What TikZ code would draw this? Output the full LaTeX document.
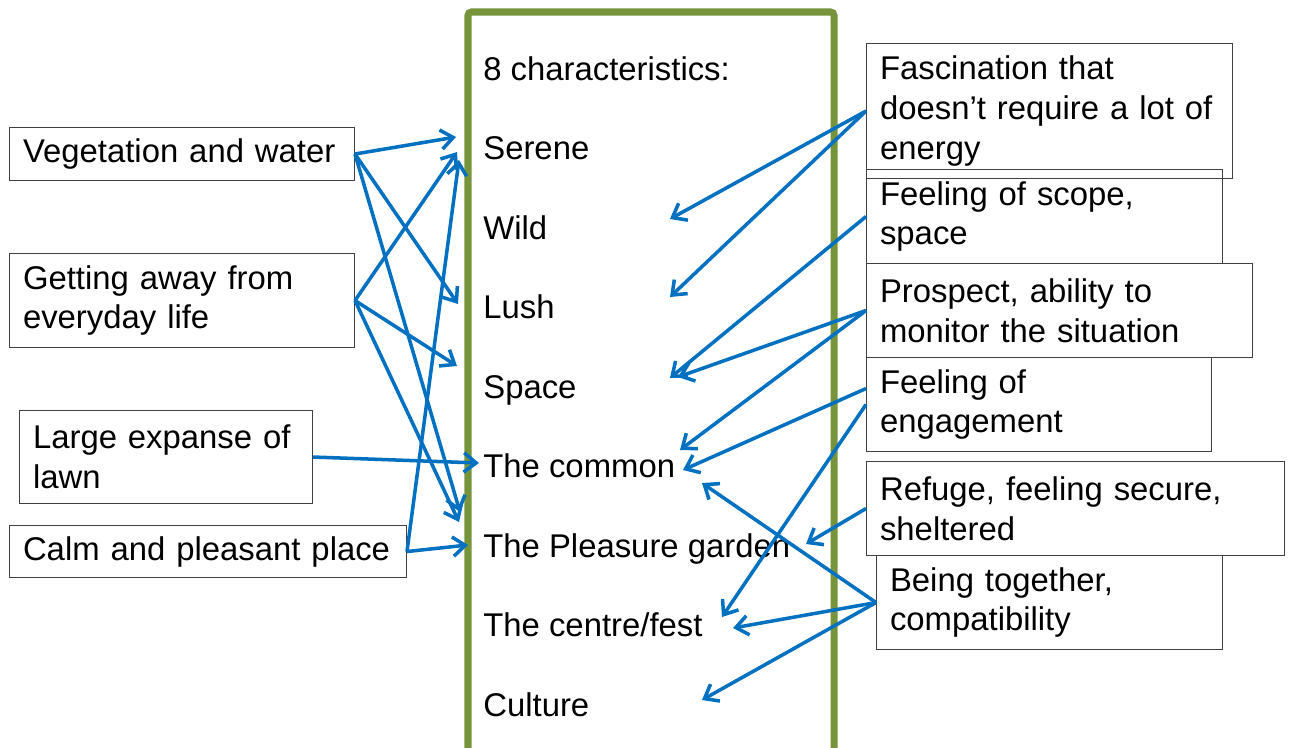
\documentclass[tikz,border=0pt]{standalone}
\usepackage{fontspec}
\setmainfont{Liberation Sans}
\usetikzlibrary{arrows.meta}
\definecolor{arrblue}{RGB}{0,112,192}
\definecolor{framegreen}{RGB}{119,147,60}
\definecolor{boxgray}{RGB}{64,64,64}

\begin{document}
\begin{tikzpicture}[x=0.02cm,y=-0.02cm,
  every node/.style={font=\fontsize{18.7}{22.7}\selectfont},
  box/.style={draw=boxgray,line width=0.6pt,anchor=north west,align=left,inner xsep=0.27cm,inner ysep=0pt},
  charac/.style={anchor=base west,inner sep=0pt},
  arr/.style={draw=arrblue,line width=2pt,-{Straight Barb[length=7pt,width=11pt]}}]
\useasboundingbox (0,0) rectangle (1290,747);
\clip (0,0) rectangle (1290,747);
\draw[framegreen,line width=4pt,rounded corners=2pt] (468,12) rectangle (834,780);
\foreach \t [count=\i from 0] in {8 characteristics:,Serene,Wild,Lush,Space,The common,The Pleasure garden,The centre/fest,Culture}
\node[charac] (c\i) at (483,{80+79.5*\i}) {\t};
% left boxes
\node[box,text width=6.36cm,minimum height=1.06cm] (veg) at (9,127) {Vegetation and water};
\node[box,text width=6.36cm,minimum height=1.88cm] (away) at (9,253) {Getting away from\\everyday life};
\node[box,text width=5.32cm,minimum height=1.86cm] (lawn) at (19,410) {Large expanse of\\lawn};
\node[box,text width=7.40cm,minimum height=1.04cm] (calm) at (9,525) {Calm and pleasant place};
% right boxes
\node[box,text width=6.78cm,minimum height=2.7cm] (fasc) at (866,43) {Fascination that\\doesn’t require a lot of\\energy};
\node[box,text width=6.58cm,minimum height=1.88cm] (scope) at (866,169) {Feeling of scope,\\space};
\node[box,text width=7.18cm,minimum height=1.88cm] (prosp) at (866,263) {Prospect, ability to\\monitor the situation};
\node[box,text width=6.36cm,minimum height=1.88cm] (engage) at (866,357) {Feeling of\\engagement};
\node[box,text width=7.82cm,minimum height=1.88cm] (refuge) at (866,461) {Refuge, feeling secure,\\sheltered};
\node[box,text width=6.38cm,minimum height=1.88cm] (togeth) at (876,555) {Being together,\\compatibility};
% arrow ends
\coordinate (vegser) at (456,137);
\coordinate (veglush) at (458,304);
\coordinate (vegpl) at (460,512);
\coordinate (awayser) at (457,152);
\coordinate (awaysp) at (457,366);
\coordinate (awaypl) at (459,522);
\coordinate (lawncom) at (479,463);
\coordinate (calmpl) at (468,545);
\coordinate (calmser) at (459,160);
\coordinate (fascwild) at (670,219);
\coordinate (fasclush) at (670,297);
\coordinate (scopesp) at (670,378);
\coordinate (prospsp) at (678,377);
\coordinate (prospcom) at (680,450);
\coordinate (engcom) at (683,470);
\coordinate (engcen) at (722,617);
\coordinate (refpl) at (806,544);
\coordinate (togcom) at (702,483);
\coordinate (togcen) at (733,628);
\coordinate (togcul) at (702,700);
\draw[arr] (veg.east) -- (vegser);
\draw[arr] (veg.east) -- (veglush);
\draw[arr] (veg.east) -- (vegpl);
\draw[arr] (away.east) -- (awayser);
\draw[arr] (away.east) -- (awaysp);
\draw[arr] (away.east) -- (awaypl);
\draw[arr] (lawn.east) -- (lawncom);
\draw[arr] (calm.east) -- (calmpl);
\draw[arr] (calm.east) -- (calmser);
\draw[arr] (fasc.west) -- (fascwild);
\draw[arr] (fasc.west) -- (fasclush);
\draw[arr] (scope.west) -- (scopesp);
\draw[arr] (prosp.west) -- (prospsp);
\draw[arr] (prosp.west) -- (prospcom);
\draw[arr] ([yshift=0.32cm]engage.west) -- (engcom);
\draw[arr] (engage.west) -- (engcen);
\draw[arr] (refuge.west) -- (refpl);
\draw[arr] (togeth.west) -- (togcom);
\draw[arr] (togeth.west) -- (togcen);
\draw[arr] (togeth.west) -- (togcul);
\end{tikzpicture}
\end{document}
